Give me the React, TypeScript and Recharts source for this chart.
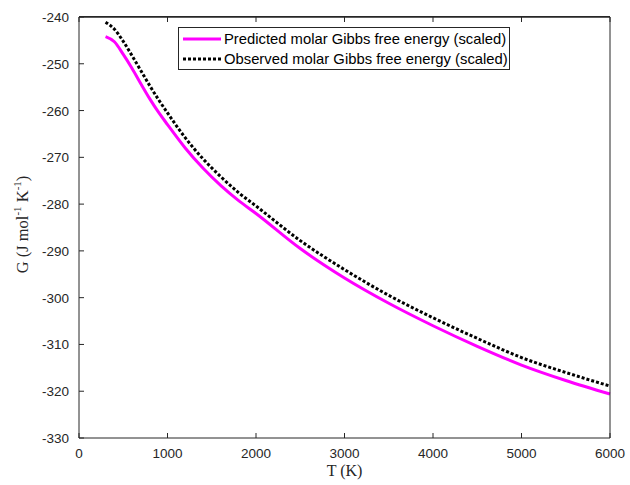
import { Line, LineChart, ReferenceLine, XAxis, YAxis } from "recharts";

const temperatures = [300, 400, 500, 600, 700, 800, 900, 1000, 1200, 1400, 1600, 1800, 2000, 2500, 3000, 3500, 4000, 4500, 5000, 5500, 6000];
const predicted = [-244.2, -245.3, -248.0, -251.0, -254.3, -257.5, -260.4, -263.0, -268.0, -272.3, -276.0, -279.2, -282.0, -289.5, -295.8, -301.2, -306.0, -310.4, -314.4, -317.7, -320.6];
const observed = [-241.1, -242.6, -245.2, -248.3, -251.5, -254.7, -257.7, -260.5, -265.8, -270.3, -274.1, -277.5, -280.4, -287.8, -294.0, -299.5, -304.3, -308.7, -312.8, -316.0, -318.9];
const xTicks = [0, 1000, 2000, 3000, 4000, 5000, 6000];
const yTicks = [-330, -320, -310, -300, -290, -280, -270, -260, -250, -240];

const predictedLabel = "Predicted molar Gibbs free energy (scaled)";
const observedLabel = "Observed molar Gibbs free energy (scaled)";

const chartData = temperatures.map((t, i) => ({ t, predicted: predicted[i], observed: observed[i] }));

const axisColor = "#262626";
const sans = "'Liberation Sans', Arial, sans-serif";
const serif = "'Liberation Serif', 'Times New Roman', serif";

// MATLAB-style ticks: short marks pointing into the plot, labels outside
function BottomTick({ x, y, payload }: any) {
  return (
    <g>
      <line x1={x} y1={y} x2={x} y2={y - 5} stroke={axisColor} />
      <text x={x} y={y + 20} textAnchor="middle" fill={axisColor} fontSize={13.5} fontFamily={sans}>
        {payload.value}
      </text>
    </g>
  );
}

function LeftTick({ x, y, payload }: any) {
  return (
    <g>
      <line x1={x} y1={y} x2={x + 5} y2={y} stroke={axisColor} />
      <text x={x - 10} y={y + 5} textAnchor="end" fill={axisColor} fontSize={13.5} fontFamily={sans}>
        {payload.value}
      </text>
    </g>
  );
}

function TopTick({ x, y }: any) {
  return <line x1={x} y1={y} x2={x} y2={y + 5} stroke={axisColor} />;
}

function RightTick({ x, y }: any) {
  return <line x1={x} y1={y} x2={x - 5} y2={y} stroke={axisColor} />;
}

function YLabel(props: any) {
  const vb = props.viewBox || {};
  const cy = vb.y + vb.height / 2 - 3;
  const cx = 28;
  return (
    <text
      x={cx}
      y={cy}
      transform={`rotate(-90, ${cx}, ${cy})`}
      textAnchor="middle"
      fill={axisColor}
      fontSize={16.5}
      fontFamily={serif}
    >
      <tspan>G (J mol</tspan>
      <tspan fontSize={11} dy={-7}>-1</tspan>
      <tspan dy={7}> K</tspan>
      <tspan fontSize={11} dy={-7}>-1</tspan>
      <tspan dy={7}>)</tspan>
    </text>
  );
}

function LegendBox() {
  const row = { display: "flex", alignItems: "center", height: 20 };
  return (
    <div
      style={{
        position: "absolute",
        left: 178,
        top: 27,
        width: 332,
        height: 43,
        boxSizing: "border-box",
        border: `1px solid ${axisColor}`,
        background: "#fff",
        padding: "1px 0 0 4px",
        fontFamily: sans,
        fontSize: 14.8,
        color: "#000",
        whiteSpace: "nowrap",
      }}
    >
      <div style={row}>
        <svg width={38} height={6} style={{ marginRight: 3 }}>
          <line x1={0} y1={3} x2={38} y2={3} stroke="#ff00ff" strokeWidth={3} />
        </svg>
        {predictedLabel}
      </div>
      <div style={row}>
        <svg width={38} height={6} style={{ marginRight: 3 }}>
          <line x1={0} y1={3} x2={38} y2={3} stroke="#000" strokeWidth={3} strokeDasharray="3 2" />
        </svg>
        {observedLabel}
      </div>
    </div>
  );
}

export default function App() {
  return (
    <div style={{ position: "absolute", left: 0, top: 0, width: 630, height: 485, background: "#fff" }}>
      <LineChart width={630} height={485} data={chartData} margin={{ top: 12, right: 0, bottom: 7, left: 0 }}>
        <XAxis
          xAxisId="bottom"
          dataKey="t"
          type="number"
          domain={[0, 6000]}
          ticks={xTicks}
          height={40}
          stroke={axisColor}
          tickLine={false}
          tickSize={0}
          tickMargin={0}
          tick={<BottomTick />}
          label={{ value: "T (K)", position: "insideBottom", offset: 2, fill: axisColor, fontSize: 16, fontFamily: serif }}
        />
        <XAxis
          xAxisId="top"
          orientation="top"
          dataKey="t"
          type="number"
          domain={[0, 6000]}
          ticks={xTicks}
          height={5}
          stroke={axisColor}
          tickLine={false}
          tickSize={0}
          tickMargin={0}
          tick={<TopTick />}
        />
        <YAxis
          yAxisId="left"
          type="number"
          domain={[-330, -240]}
          ticks={yTicks}
          width={79}
          stroke={axisColor}
          tickLine={false}
          tickSize={0}
          tickMargin={0}
          tick={<LeftTick />}
          label={<YLabel />}
        />
        <YAxis
          yAxisId="right"
          orientation="right"
          type="number"
          domain={[-330, -240]}
          ticks={yTicks}
          width={20}
          stroke={axisColor}
          tickLine={false}
          tickSize={0}
          tickMargin={0}
          tick={<RightTick />}
        />
        <ReferenceLine xAxisId="bottom" yAxisId="left" y={-240} stroke={axisColor} ifOverflow="extendDomain" />
        <Line
          xAxisId="bottom"
          yAxisId="left"
          type="monotone"
          dataKey="predicted"
          name={predictedLabel}
          stroke="#ff00ff"
          strokeWidth={3}
          dot={false}
          isAnimationActive={false}
        />
        <Line
          xAxisId="bottom"
          yAxisId="left"
          type="monotone"
          dataKey="observed"
          name={observedLabel}
          stroke="#000"
          strokeWidth={3}
          strokeDasharray="3 2"
          dot={false}
          isAnimationActive={false}
        />
      </LineChart>
      {/* top frame edge of the axes box */}
      <div style={{ position: "absolute", left: 79, top: 16, width: 531, height: 1, background: axisColor }} />
      <LegendBox />
    </div>
  );
}
